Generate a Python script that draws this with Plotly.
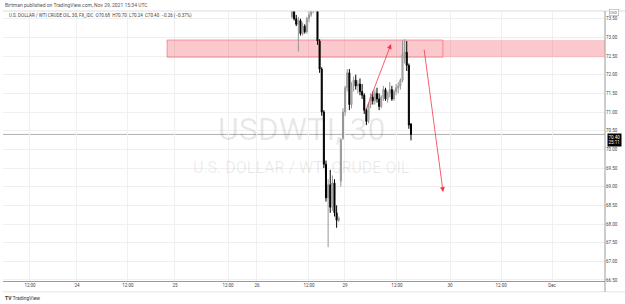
import plotly.graph_objects as go

# ---- data (30-min bars, x = bar index on TradingView's gap-less time axis) ----
bar_index = list(range(136, 193))
opens = [73.55, 73.75, 73.50, 73.35, 73.45, 73.10, 73.30, 73.15, 73.50, 73.60,
         73.80, 73.85, 73.75, 72.90, 72.15, 71.00, 69.60, 68.70, 69.05, 68.45,
         69.10, 68.30, 68.10, 69.15, 70.30, 71.00, 71.65, 72.05, 71.20, 71.70,
         71.85, 71.70, 71.75, 71.55, 71.45, 71.05, 70.75, 71.20, 71.40, 71.30,
         71.50, 71.35, 71.15, 71.40, 71.60, 71.35, 71.50, 71.60, 71.35, 71.55,
         71.65, 71.70, 71.85, 72.55, 72.60, 72.25, 70.68]
highs = [73.85, 73.80, 73.60, 73.55, 73.50, 73.40, 73.35, 73.55, 73.70, 73.85,
         73.95, 73.95, 73.80, 72.95, 72.20, 71.05, 69.70, 69.20, 69.45, 69.30,
         69.20, 68.50, 68.20, 70.30, 71.10, 71.70, 72.15, 72.15, 71.80, 71.95,
         72.00, 71.85, 71.90, 71.75, 71.50, 71.10, 71.25, 71.50, 71.55, 71.60,
         71.65, 71.50, 71.45, 71.70, 71.65, 71.55, 71.80, 71.70, 71.60, 71.75,
         71.80, 71.90, 72.92, 72.95, 72.90, 72.30, 70.70]
lows = [73.50, 73.45, 73.30, 72.62, 73.05, 73.05, 73.10, 73.10, 73.40, 73.55,
        73.65, 73.70, 72.80, 72.05, 70.90, 69.50, 68.60, 67.38, 68.30, 68.35,
        68.20, 67.90, 68.05, 69.00, 70.25, 70.90, 71.55, 71.05, 71.10, 71.55,
        71.60, 71.50, 71.45, 71.35, 70.95, 70.65, 70.70, 71.10, 71.20, 71.20,
        71.25, 71.05, 71.10, 71.30, 71.30, 71.25, 71.40, 71.30, 71.30, 71.45,
        71.50, 71.60, 71.80, 72.30, 72.10, 70.55, 70.24]
closes = [73.75, 73.50, 73.35, 73.45, 73.10, 73.30, 73.15, 73.50, 73.60, 73.80,
          73.85, 73.75, 72.90, 72.15, 71.00, 69.60, 68.70, 69.05, 68.45, 69.10,
          68.30, 68.10, 68.15, 70.25, 71.00, 71.65, 72.05, 71.20, 71.70, 71.85,
          71.70, 71.75, 71.55, 71.45, 71.05, 70.75, 71.20, 71.40, 71.30, 71.50,
          71.35, 71.15, 71.40, 71.60, 71.35, 71.50, 71.60, 71.35, 71.55, 71.65,
          71.70, 71.85, 72.55, 72.60, 72.25, 70.65, 70.40]

# time-axis tick labels and their bar positions
tick_pos = [12.7, 34.8, 58.8, 80.9, 105.9, 119.5, 144.0, 160.9, 185.4, 210.4, 234.4, 258.4]
tick_text = ["12:00", "24", "12:00", "25", "12:00", "26", "12:00", "29", "12:00", "30", "12:00", "Dec"]

price_ticks = [66.5, 67.0, 67.5, 68.0, 68.5, 69.0, 69.5, 70.0, 70.5, 71.0, 71.5, 72.0, 72.5, 73.0, 73.5]

# drawings
zone_low, zone_high = 72.47, 72.93
zone_x0, zone_split, zone_x1 = 77.2, 207.0, 283.3
arrow_up = dict(x0=170.8, y0=71.05, x1=182.6, y1=72.82)
arrow_down = dict(x0=198.1, y0=72.71, x1=207.1, y1=68.86)

X_RANGE = [0, 283.3]
Y_RANGE = [66.473, 73.706]

fig = go.Figure()
fig.add_trace(go.Candlestick(
    x=bar_index, open=opens, high=highs, low=lows, close=closes,
    increasing=dict(line=dict(color="#959595", width=1), fillcolor="#d4d4d4"),
    decreasing=dict(line=dict(color="#000000", width=1), fillcolor="#000000"),
    whiskerwidth=0, hoverinfo="skip",
))

red = "#f23645"
shapes = [
    dict(type="rect", xref="x", yref="y", x0=zone_x0, x1=zone_split, y0=zone_low, y1=zone_high,
         fillcolor="rgba(242,54,69,0.27)", line=dict(color="rgba(242,54,69,0.45)", width=1), layer="between"),
    dict(type="rect", xref="x", yref="y", x0=zone_split, x1=zone_x1, y0=zone_low, y1=zone_high,
         fillcolor="rgba(242,54,69,0.27)", line=dict(width=0), layer="between"),
    dict(type="line", xref="paper", yref="y", x0=0, x1=1, y0=closes[-1], y1=closes[-1],
         line=dict(color="#b0b0b0", width=1), layer="between"),
    dict(type="line", xref="paper", yref="paper", x0=0, x1=1.035, y0=1, y1=1,
         line=dict(color="#dcdcdc", width=1)),
    dict(type="line", xref="paper", yref="paper", x0=0, x1=1.035, y0=-0.04, y1=-0.04,
         line=dict(color="#e4e4e4", width=1)),
    dict(type="line", xref="paper", yref="paper", x0=1, x1=1, y0=-0.04, y1=1,
         line=dict(color="#9a9a9a", width=1)),
]

ann = [
    dict(xref="x", yref="y", x=140.5, y=70.55, text="USDWTI, 30", showarrow=False,
         font=dict(family="Roboto", size=32, color="rgba(0,0,0,0.09)")),
    dict(xref="x", yref="y", x=140.7, y=69.52, text="U.S. DOLLAR / WTI CRUDE OIL", showarrow=False,
         font=dict(family="Roboto", size=16, color="rgba(0,0,0,0.09)")),
    dict(xref="x", yref="y", x=arrow_up["x1"], y=arrow_up["y1"], ax=arrow_up["x0"], ay=arrow_up["y0"],
         axref="x", ayref="y", showarrow=True, arrowhead=2, arrowsize=1.2, arrowwidth=0.8,
         arrowcolor=red, text=""),
    dict(xref="x", yref="y", x=arrow_down["x1"], y=arrow_down["y1"], ax=arrow_down["x0"], ay=arrow_down["y0"],
         axref="x", ayref="y", showarrow=True, arrowhead=2, arrowsize=1.2, arrowwidth=0.8,
         arrowcolor=red, text=""),
    dict(xref="paper", yref="paper", x=0.0, y=1.022, xanchor="left", yanchor="middle", showarrow=False,
         text="Birtman published on TradingView.com, Nov 29, 2021 15:34 UTC",
         font=dict(family="Roboto", size=5, color="#555")),
    dict(xref="paper", yref="paper", x=0.007, y=0.982, xanchor="left", yanchor="middle", showarrow=False,
         text="U.S. DOLLAR / WTI CRUDE OIL, 30, FX_IDC  O70.68  H70.70  L70.24  C70.40  −0.26 (−0.37%)",
         font=dict(family="Roboto", size=4.5, color="#444")),
    dict(xref="paper", yref="paper", x=0.0, y=-0.063, xanchor="left", yanchor="middle", showarrow=False,
         text="<b>TV</b> TradingView", font=dict(family="Roboto", size=5, color="#333")),
    dict(xref="paper", yref="y", x=1.004, y=70.445, xanchor="left", yanchor="top", showarrow=False,
         text="70.40<br>25:11", bgcolor="#000", borderpad=0.5,
         font=dict(family="Roboto", size=4.5, color="#fff")),
    dict(xref="paper", yref="y", x=1.006, y=73.675, xanchor="left", yanchor="middle", showarrow=False,
         text="USD", bordercolor="#aaa", borderwidth=0.6, borderpad=0.3, bgcolor="#fff",
         font=dict(family="Roboto", size=3.8, color="#666")),
]

fig.update_layout(
    width=625, height=304, autosize=False,
    margin=dict(l=3, r=20, t=11, b=23),
    paper_bgcolor="white", plot_bgcolor="white",
    showlegend=False, shapes=shapes, annotations=ann,
    xaxis=dict(range=X_RANGE, tickvals=tick_pos, ticktext=tick_text, showgrid=True,
               gridcolor="#f0f0f0", gridwidth=1, showline=True, linecolor="#9a9a9a", linewidth=1,
               zeroline=False, ticks="", tickfont=dict(family="Roboto", size=4.5, color="#444"),
               rangeslider=dict(visible=False), fixedrange=True),
    yaxis=dict(range=Y_RANGE, side="right", tickvals=price_ticks,
               ticktext=[f"{v:.2f}" for v in price_ticks], showgrid=True, gridcolor="#f0f0f0",
               gridwidth=1, showline=False, zeroline=False, ticks="",
               tickfont=dict(family="Roboto", size=4.5, color="#444"), fixedrange=True),
)

fig.write_html("out.html")
